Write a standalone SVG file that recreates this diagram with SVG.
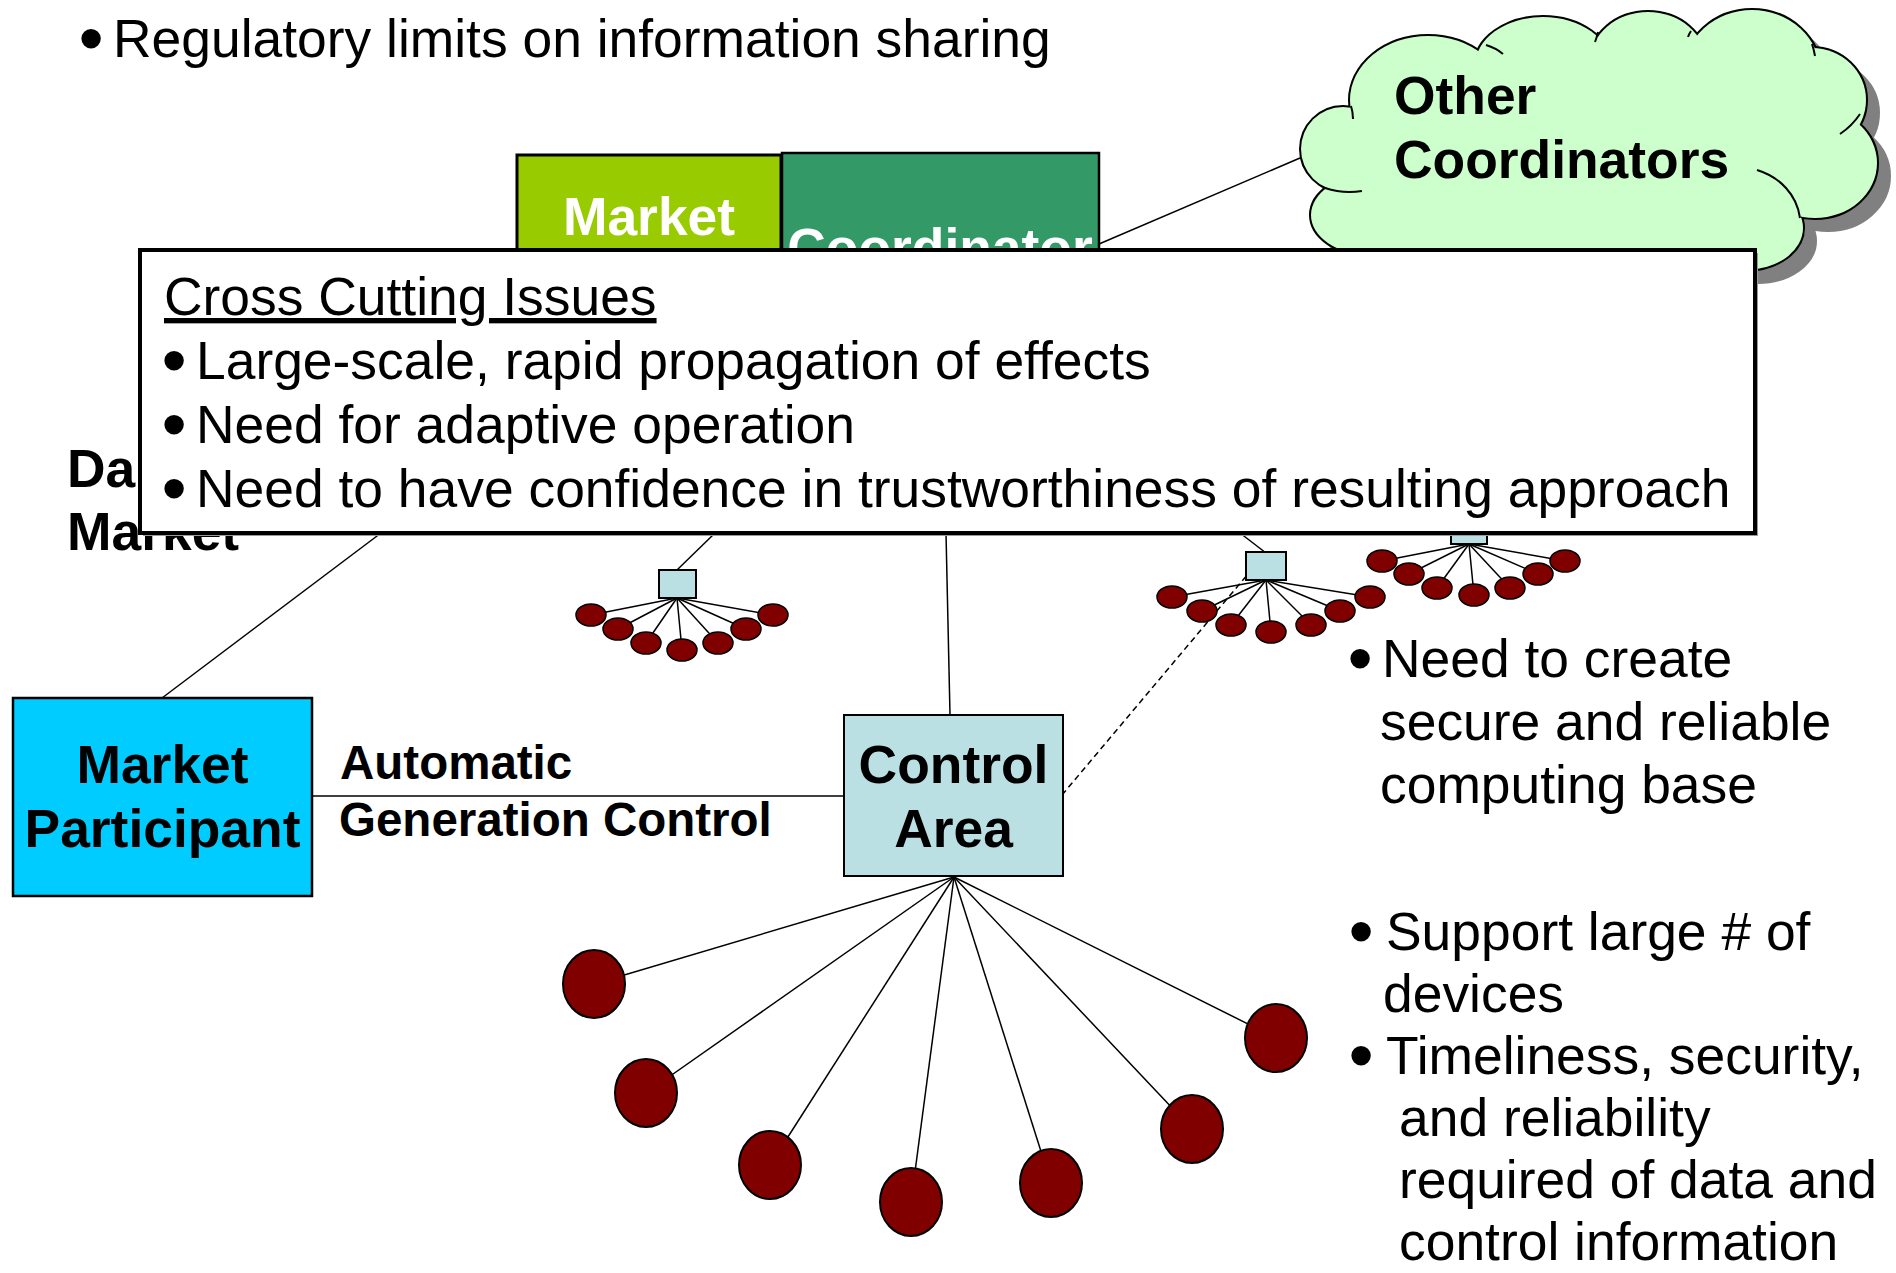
<svg xmlns="http://www.w3.org/2000/svg" xmlns:xlink="http://www.w3.org/1999/xlink" width="1896" height="1273" viewBox="0 0 1896 1273">
<style>
.t{font-family:"Liberation Sans",Arial,sans-serif;font-size:53.4px;fill:#000}
.bu{font-family:"Liberation Sans",Arial,sans-serif;font-size:53.4px;fill:#000;stroke:#000;stroke-width:5;text-anchor:middle}
.b{font-weight:bold}
.w{fill:#fff}
.m{text-anchor:middle}
.lbl{font-family:"Liberation Sans",Arial,sans-serif;font-size:47.5px;font-weight:bold;fill:#000}
.ln{stroke:#000;stroke-width:1.5;fill:none}
.dash{stroke:#000;stroke-width:1.5;fill:none;stroke-dasharray:6 4}
.dev{fill:#800000;stroke:#000;stroke-width:2}
.sdev{fill:#800000;stroke:#000;stroke-width:1.5}
.sq{fill:#BBE0E3;stroke:#000;stroke-width:2}
.inner{stroke:#000;stroke-width:2;fill:none}
</style>
<defs>
<g id="lobes">
<circle cx="1343" cy="149" r="42"/>
<ellipse cx="1428" cy="100" rx="78" ry="64"/>
<ellipse cx="1543" cy="66" rx="68" ry="49"/>
<ellipse cx="1648" cy="62" rx="58" ry="50"/>
<ellipse cx="1752" cy="72" rx="68" ry="62"/>
<ellipse cx="1812" cy="100" rx="54" ry="52"/>
<ellipse cx="1815" cy="163" rx="62" ry="55"/>
<ellipse cx="1745" cy="228" rx="58" ry="42"/>
<ellipse cx="1370" cy="215" rx="59" ry="40"/>
<ellipse cx="1560" cy="240" rx="200" ry="45"/>
<ellipse cx="1590" cy="150" rx="235" ry="90"/>
</g>
</defs>
<rect width="1896" height="1273" fill="#fff"/>

<g id="title">
<text class="bu" x="91" y="57">•</text>
<text class="t" x="113" y="57">Regulatory limits on information sharing</text>
</g>

<g id="connectors">
<line class="ln" x1="1099" y1="244" x2="1300" y2="158"/>
<line class="ln" x1="381" y1="533" x2="162" y2="698"/>
<line class="ln" x1="715" y1="533" x2="677" y2="570"/>
<line class="ln" x1="946" y1="533" x2="950" y2="715"/>
<line class="ln" x1="1240" y1="533" x2="1266" y2="553"/>
<line class="ln" x1="312" y1="796" x2="844" y2="796"/>
<line class="dash" x1="1062" y1="795" x2="1264" y2="555"/>
<g id="fanA">
<line class="ln" x1="677" y1="598" x2="591" y2="615"/>
<line class="ln" x1="677" y1="598" x2="618" y2="629"/>
<line class="ln" x1="677" y1="598" x2="646" y2="643"/>
<line class="ln" x1="677" y1="598" x2="682" y2="650"/>
<line class="ln" x1="677" y1="598" x2="718" y2="643"/>
<line class="ln" x1="677" y1="598" x2="746" y2="629"/>
<line class="ln" x1="677" y1="598" x2="773" y2="615"/>
</g>
<g id="fanB">
<line class="ln" x1="1266" y1="580" x2="1172" y2="597"/>
<line class="ln" x1="1266" y1="580" x2="1202" y2="611"/>
<line class="ln" x1="1266" y1="580" x2="1231" y2="625"/>
<line class="ln" x1="1266" y1="580" x2="1271" y2="632"/>
<line class="ln" x1="1266" y1="580" x2="1311" y2="625"/>
<line class="ln" x1="1266" y1="580" x2="1340" y2="611"/>
<line class="ln" x1="1266" y1="580" x2="1370" y2="597"/>
</g>
<g id="fanC">
<line class="ln" x1="1469" y1="544" x2="1382" y2="561"/>
<line class="ln" x1="1469" y1="544" x2="1409" y2="574"/>
<line class="ln" x1="1469" y1="544" x2="1437" y2="588"/>
<line class="ln" x1="1469" y1="544" x2="1474" y2="595"/>
<line class="ln" x1="1469" y1="544" x2="1510" y2="588"/>
<line class="ln" x1="1469" y1="544" x2="1538" y2="574"/>
<line class="ln" x1="1469" y1="544" x2="1565" y2="561"/>
</g>
<g id="fanBig">
<line class="ln" x1="954" y1="877" x2="594" y2="984"/>
<line class="ln" x1="954" y1="877" x2="646" y2="1093"/>
<line class="ln" x1="954" y1="877" x2="770" y2="1165"/>
<line class="ln" x1="954" y1="877" x2="911" y2="1202"/>
<line class="ln" x1="954" y1="877" x2="1051" y2="1183"/>
<line class="ln" x1="954" y1="877" x2="1192" y2="1129"/>
<line class="ln" x1="954" y1="877" x2="1276" y2="1038"/>
</g>
</g>

<g id="other-coordinators">
<use xlink:href="#lobes" transform="translate(13,13)" fill="#808080" stroke="#808080" stroke-width="2"/>
<use xlink:href="#lobes" fill="#000" stroke="#000" stroke-width="4"/>
<use xlink:href="#lobes" fill="#CCFFCC" stroke="none"/>
<path class="inner" d="M1325 188 Q1343 194 1362 191"/>
<path class="inner" d="M1351 106 Q1353 112 1353 119"/>
<path class="inner" d="M1486 45 Q1496 48 1503 54"/>
<path class="inner" d="M1598 32 Q1597 37 1595 42"/>
<path class="inner" d="M1691 31 Q1689 34 1688 37"/>
<path class="inner" d="M1812 44 Q1814 50 1815 56"/>
<path class="inner" d="M1860 114 Q1852 126 1840 134"/>
<path class="inner" d="M1757 170 C1780 177 1797 195 1800 218"/>
<text class="t b" x="1394" y="114">Other</text>
<text class="t b" x="1394" y="178">Coordinators</text>
</g>

<g id="market">
<rect x="517" y="155" width="264" height="160" fill="#99CC00" stroke="#000" stroke-width="3"/>
<text class="t b w m" x="649" y="235">Market</text>
</g>

<g id="coordinator">
<rect x="782" y="153" width="317" height="160" fill="#339966" stroke="#000" stroke-width="2.5"/>
<text class="t b w m" x="940" y="266">Coordinator</text>
</g>

<g id="day-market-label">
<text class="t b" x="67" y="487">Da</text>
<text class="t b" x="67" y="550">Market</text>
</g>

<g id="cluster-c">
<rect class="sq" x="1451" y="516" width="36" height="28"/>
<ellipse class="sdev" cx="1382" cy="561" rx="15" ry="11"/>
<ellipse class="sdev" cx="1409" cy="574" rx="15" ry="11"/>
<ellipse class="sdev" cx="1437" cy="588" rx="15" ry="11"/>
<ellipse class="sdev" cx="1474" cy="595" rx="15" ry="11"/>
<ellipse class="sdev" cx="1510" cy="588" rx="15" ry="11"/>
<ellipse class="sdev" cx="1538" cy="574" rx="15" ry="11"/>
<ellipse class="sdev" cx="1565" cy="561" rx="15" ry="11"/>
</g>

<g id="cross-cutting-issues">
<rect x="143" y="253" width="1615" height="283" fill="#999"/>
<rect x="140" y="250" width="1615" height="283" fill="#fff" stroke="#000" stroke-width="4"/>
<text class="t" x="164" y="315" text-decoration="underline">Cross Cutting Issues</text>
<text class="bu" x="174" y="379">•</text>
<text class="t" x="196" y="379">Large-scale, rapid propagation of effects</text>
<text class="bu" x="174" y="443">•</text>
<text class="t" x="196" y="443">Need for adaptive operation</text>
<text class="bu" x="174" y="507">•</text>
<text class="t" x="196" y="507">Need to have confidence in trustworthiness of resulting approach</text>
</g>

<g id="market-participant">
<rect x="13" y="698" width="299" height="198" fill="#00CCFF" stroke="#000" stroke-width="2.5"/>
<text class="t b m" x="162.5" y="783">Market</text>
<text class="t b m" x="162.5" y="847">Participant</text>
</g>

<g id="agc-label">
<text class="lbl" x="340" y="779">Automatic</text>
<text class="lbl" x="339" y="836">Generation Control</text>
</g>

<g id="control-area">
<rect x="844" y="715" width="219" height="161" fill="#BBE0E3" stroke="#000" stroke-width="2"/>
<text class="t b m" x="953.5" y="783">Control</text>
<text class="t b m" x="953.5" y="847">Area</text>
</g>

<g id="cluster-a">
<rect class="sq" x="659" y="570" width="37" height="28"/>
<ellipse class="sdev" cx="591" cy="615" rx="15" ry="11"/>
<ellipse class="sdev" cx="618" cy="629" rx="15" ry="11"/>
<ellipse class="sdev" cx="646" cy="643" rx="15" ry="11"/>
<ellipse class="sdev" cx="682" cy="650" rx="15" ry="11"/>
<ellipse class="sdev" cx="718" cy="643" rx="15" ry="11"/>
<ellipse class="sdev" cx="746" cy="629" rx="15" ry="11"/>
<ellipse class="sdev" cx="773" cy="615" rx="15" ry="11"/>
</g>

<g id="cluster-b">
<rect class="sq" x="1246" y="552" width="40" height="28"/>
<ellipse class="sdev" cx="1172" cy="597" rx="15" ry="11"/>
<ellipse class="sdev" cx="1202" cy="611" rx="15" ry="11"/>
<ellipse class="sdev" cx="1231" cy="625" rx="15" ry="11"/>
<ellipse class="sdev" cx="1271" cy="632" rx="15" ry="11"/>
<ellipse class="sdev" cx="1311" cy="625" rx="15" ry="11"/>
<ellipse class="sdev" cx="1340" cy="611" rx="15" ry="11"/>
<ellipse class="sdev" cx="1370" cy="597" rx="15" ry="11"/>
</g>

<g id="devices">
<ellipse class="dev" cx="594" cy="984" rx="31" ry="34"/>
<ellipse class="dev" cx="646" cy="1093" rx="31" ry="34"/>
<ellipse class="dev" cx="770" cy="1165" rx="31" ry="34"/>
<ellipse class="dev" cx="911" cy="1202" rx="31" ry="34"/>
<ellipse class="dev" cx="1051" cy="1183" rx="31" ry="34"/>
<ellipse class="dev" cx="1192" cy="1129" rx="31" ry="34"/>
<ellipse class="dev" cx="1276" cy="1038" rx="31" ry="34"/>
</g>

<g id="notes">
<text class="bu" x="1360" y="677">•</text>
<text class="t" x="1382" y="677">Need to create</text>
<text class="t" x="1380" y="740">secure and reliable</text>
<text class="t" x="1380" y="803">computing base</text>
<text class="bu" x="1361" y="950">•</text>
<text class="t" x="1386" y="950">Support large # of</text>
<text class="t" x="1383" y="1012">devices</text>
<text class="bu" x="1361" y="1074">•</text>
<text class="t" x="1386" y="1074">Timeliness, security,</text>
<text class="t" x="1399" y="1136">and reliability</text>
<text class="t" x="1399" y="1198">required of data and</text>
<text class="t" x="1399" y="1260">control information</text>
</g>
</svg>
